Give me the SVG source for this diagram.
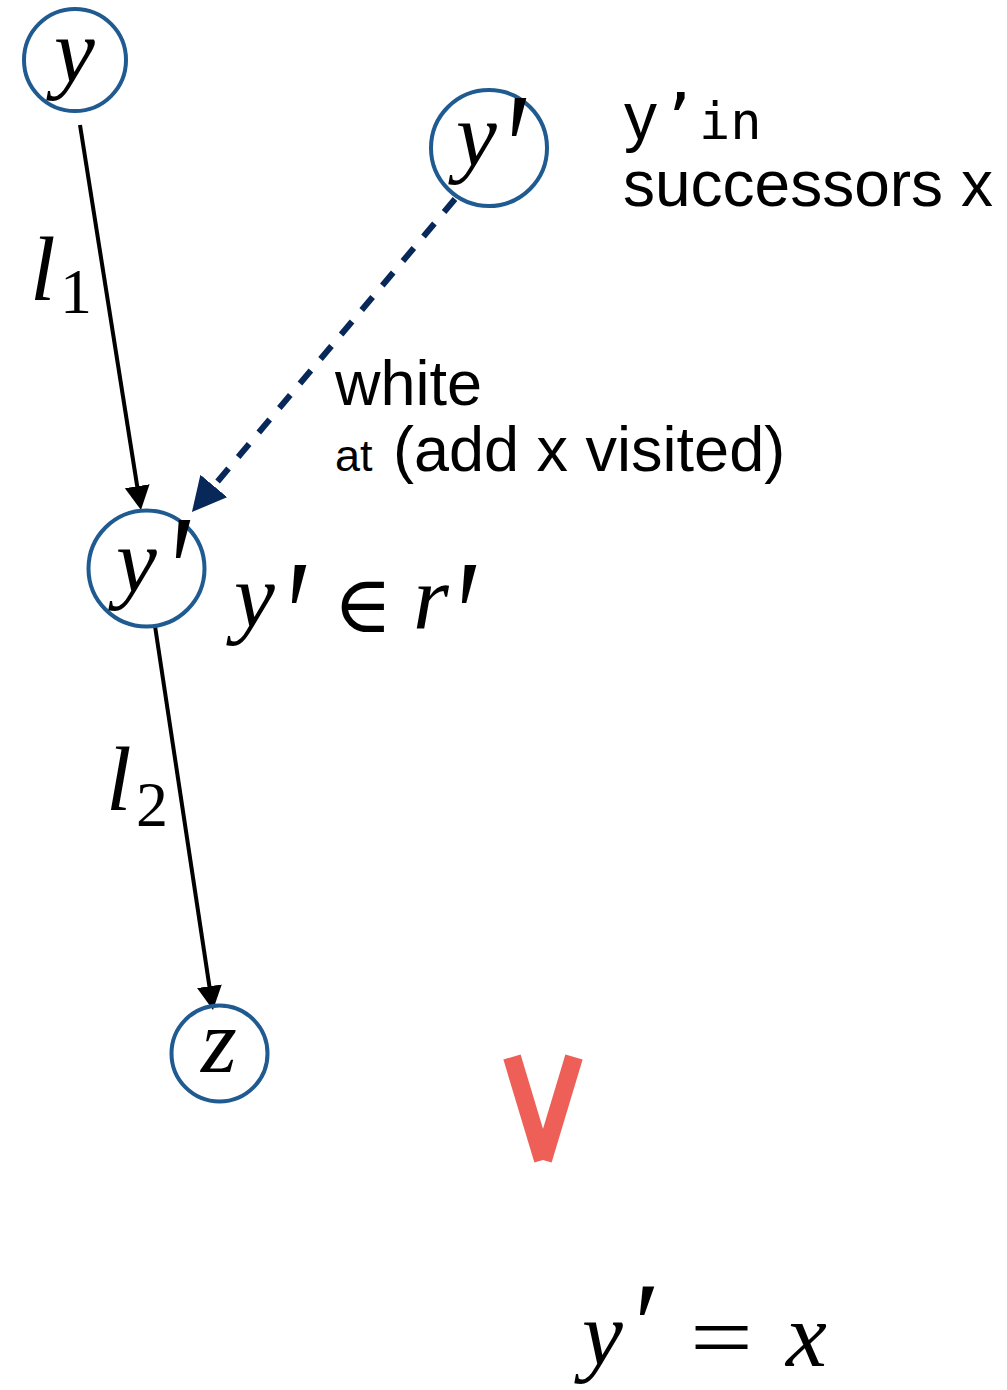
<svg xmlns="http://www.w3.org/2000/svg" width="1007" height="1390" viewBox="0 0 1007 1390">
  <style>
    .node { fill: none; stroke: #1f5a91; stroke-width: 4; }
    .math { font-family: "Liberation Serif", "DejaVu Serif", serif; font-style: italic; font-size: 92px; fill: #000; }
    .up { font-family: "Liberation Serif", "DejaVu Serif", serif; font-style: normal; fill: #000; }
    .prime { font-family: "Liberation Serif", "DejaVu Serif", serif; font-style: normal; font-size: 120px; fill: #000; }
    .sym { font-family: "DejaVu Serif", "Liberation Serif", serif; font-style: normal; fill: #000; }
    .sans { font-family: "Liberation Sans", Arial, sans-serif; fill: #000; }
    .mono { font-family: "DejaVu Sans Mono", "Liberation Mono", monospace; fill: #000; }
    .solid { stroke: #000; stroke-width: 4; fill: none; }
    .dashed { stroke: #08285a; stroke-width: 6; fill: none; stroke-dasharray: 17 15; }
  </style>
  <defs>
    <marker id="arrowBlack" markerUnits="userSpaceOnUse" markerWidth="26" markerHeight="26" refX="14" refY="12.5" orient="auto">
      <path d="M0,0 L24,12.5 L0,25 z" fill="#000"/>
    </marker>
    <marker id="arrowNavy" markerUnits="userSpaceOnUse" markerWidth="36" markerHeight="36" refX="14" refY="17.5" orient="auto">
      <path d="M0,0 L34,17.5 L0,35 z" fill="#08285a"/>
    </marker>
  </defs>

  <g id="connectors">
    <line class="solid" x1="80" y1="125" x2="139.4" y2="500.1" marker-end="url(#arrowBlack)"/>
    <line class="solid" x1="155" y1="626" x2="211.5" y2="1000.1" marker-end="url(#arrowBlack)"/>
    <line class="dashed" x1="455" y1="199" x2="204.8" y2="496.7" marker-end="url(#arrowNavy)"/>
    <text class="math" x="30" y="300">l<tspan class="up" x="60" y="313" font-size="64">1</tspan></text>
    <text class="math" x="106" y="810">l<tspan class="up" x="136" y="826" font-size="64">2</tspan></text>
    <text class="sans" x="335" y="405" font-size="63">white</text>
    <text class="sans" y="471"><tspan x="335" font-size="45">at</tspan><tspan x="393" font-size="63">(add x visited)</tspan></text>
  </g>

  <g id="node-y">
    <circle class="node" cx="75" cy="60" r="51"/>
    <text class="math" x="54" y="82">y</text>
  </g>

  <g id="node-y-prime-top">
    <circle class="node" cx="489" cy="148" r="58"/>
    <text class="math" x="456" y="166">y</text>
    <text class="prime" transform="translate(506,204) scale(1,1.35)">′</text>
  </g>

  <g id="node-y-prime-mid">
    <circle class="node" cx="146.5" cy="568.5" r="58"/>
    <text class="math" x="116" y="592">y</text>
    <text class="prime" transform="translate(170,626) scale(1,1.35)">′</text>
  </g>

  <g id="node-z">
    <circle class="node" cx="219.5" cy="1053.5" r="48"/>
    <text class="math" x="201" y="1072">z</text>
  </g>

  <g id="label-successors">
    <text class="sans" y="139"><tspan x="624" font-size="66">y</tspan><tspan class="mono" x="660" font-size="62">’</tspan><tspan class="mono" x="699" font-size="52">in</tspan></text>
    <text class="sans" x="623" y="206" font-size="64">successors x</text>
  </g>

  <g id="label-in-r">
    <text class="math" x="234" y="627">y</text>
    <text class="prime" transform="translate(286,671) scale(1,1.35)">′</text>
    <text class="sym" x="333" y="632" font-size="80">∈</text>
    <text class="math" x="413" y="628">r</text>
    <text class="prime" transform="translate(456,671) scale(1,1.35)">′</text>
  </g>

  <g id="mark-v">
    <line x1="512" y1="1057" x2="543" y2="1160" stroke="#ee5f57" stroke-width="18"/>
    <line x1="574" y1="1057" x2="543" y2="1160" stroke="#ee5f57" stroke-width="18"/>
  </g>

  <g id="label-equal">
    <text class="math" x="582" y="1365">y</text>
    <text class="prime" x="634" y="1366" font-size="100">′</text>
    <text class="up" x="690" y="1368" font-size="92" textLength="63" lengthAdjust="spacingAndGlyphs">=</text>
    <text class="math" x="786" y="1366">x</text>
  </g>
</svg>
